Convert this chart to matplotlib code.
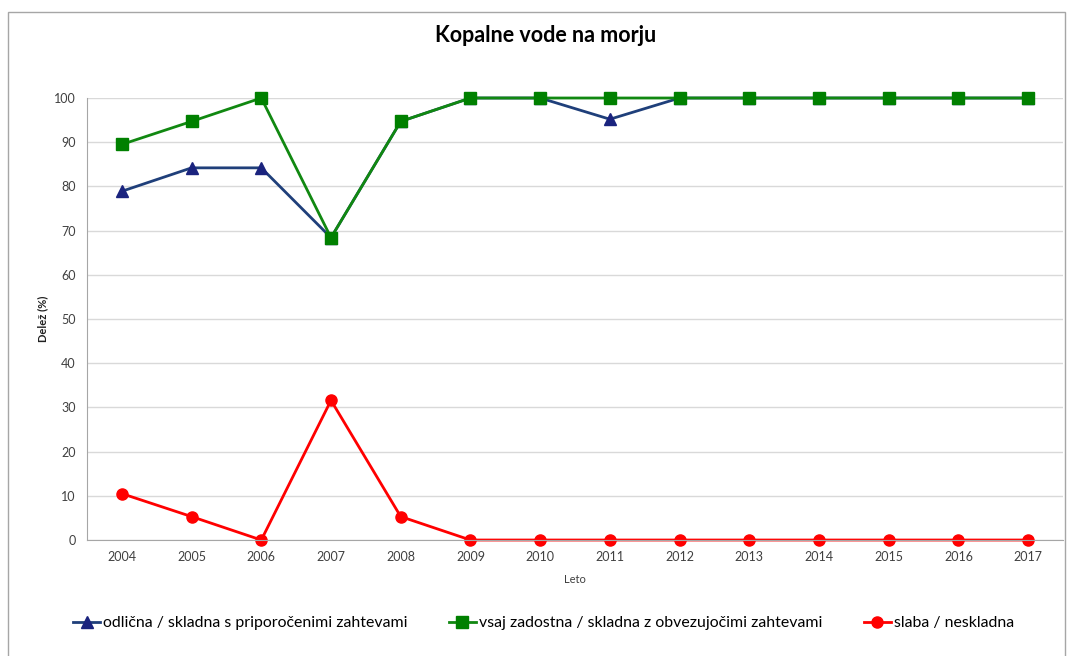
import numpy as np
import matplotlib.pyplot as plt
from matplotlib.patches import Rectangle

plt.rcParams['font.family'] = ['Lato', 'DejaVu Sans']

years = [str(y) for y in range(2004, 2018)]
odlicna = [78.9, 84.2, 84.2, 68.4, 94.7, 100, 100, 95.2, 100, 100, 100, 100, 100, 100]
zadostna = [89.5, 94.7, 100, 68.4, 94.7, 100, 100, 100, 100, 100, 100, 100, 100, 100]
slaba = [10.5, 5.3, 0, 31.6, 5.3, 0, 0, 0, 0, 0, 0, 0, 0, 0]

labels = ['odlična / skladna s priporočenimi zahtevami',
          'vsaj zadostna / skladna z obvezujočimi zahtevami',
          'slaba / neskladna']

fig = plt.figure(figsize=(10.7, 6.56), dpi=100)
fig.patches.append(Rectangle((0.0075, -0.01), 0.988, 0.992, transform=fig.transFigure,
                             fill=False, edgecolor='#a6a6a6', linewidth=1))
ax = fig.add_axes([0.0813, 0.1768, 0.9122, 0.6738])

x = np.arange(len(years))
ax.plot(x, odlicna, color='#1f3f7a', marker='^', markersize=8, clip_on=False,
        markerfacecolor='#1a237e', markeredgecolor='#1a237e', linewidth=2, label=labels[0])
ax.plot(x, zadostna, color='#118811', marker='s', markersize=8, clip_on=False,
        markerfacecolor='#008000', markeredgecolor='#008000', linewidth=2, label=labels[1])
ax.plot(x, slaba, color='#ff0000', marker='o', markersize=8, clip_on=False,
        linewidth=2, label=labels[2])

ax.set_xlim(-0.5, len(years) - 0.5)
ax.set_ylim(0, 100)
ax.set_yticks(range(0, 101, 10))
ax.set_xticks(x)
ax.set_xticklabels(years)
ax.tick_params(axis='both', labelsize=9, colors='#404040', length=0, pad=8)
ax.grid(axis='y', color='#d9d9d9', linewidth=1)
ax.set_axisbelow(True)
for s in ['top', 'right']:
    ax.spines[s].set_visible(False)
for s in ['left', 'bottom']:
    ax.spines[s].set_color('#a6a6a6')

ax.set_xlabel('Leto', fontsize=8, color='#404040', labelpad=8)
ax.set_ylabel('Delež (%)', fontsize=8, fontweight='bold', color='#202020', labelpad=4)
fig.suptitle('Kopalne vode na morju', fontsize=15.5, fontweight='bold', x=0.51, y=0.962)

fig.legend(loc='center', bbox_to_anchor=(0.508, 0.05), ncol=3, frameon=False,
           fontsize=11.4, handlelength=1.7, handletextpad=0.2, columnspacing=2.6)

fig.savefig('out.png', dpi=100)
